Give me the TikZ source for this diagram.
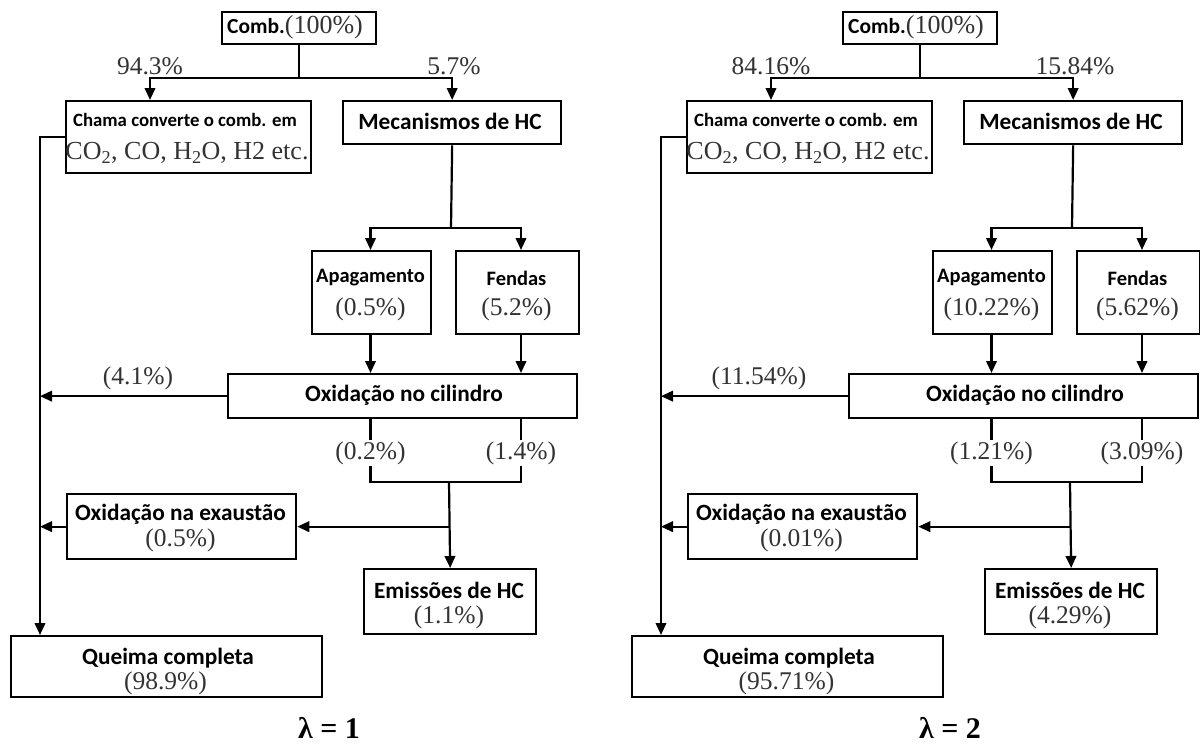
\documentclass[tikz,border=0pt]{standalone}
\usepackage{fontspec}
\setmainfont{Liberation Serif}
\newfontfamily\calb{Carlito}
\usetikzlibrary{arrows.meta}
\tikzset{
  box/.style={draw, line width=2.3pt, rectangle, anchor=north west, inner sep=0pt},
  ln/.style={line width=2.2pt},
  arr/.style={line width=2.2pt, -{Triangle[length=12pt,width=10.5pt]}},
  lbl/.style={font=\calb\bfseries\fontsize{23.3}{27}\selectfont, inner sep=0pt},
  sml/.style={font=\calb\bfseries\fontsize{20.5}{24}\selectfont, inner sep=0pt},
  tiny/.style={font=\calb\bfseries\fontsize{18.8}{22}\selectfont, inner sep=0pt},
  num/.style={font=\fontsize{25.5}{29}\selectfont, text=black!80, inner sep=0pt},
  pct/.style={num, fill=white, inner sep=1pt},
  lam/.style={font=\bfseries\fontsize{30}{34}\selectfont, inner sep=0pt},
}
\newcommand\panel[2]{%
\begin{scope}[xshift=#2]
  \coordinate (#1T) at (40,0);
  \coordinate (#1xL) at (150,0);
  \coordinate (#1xA) at (370.5,0);
  \coordinate (#1xB) at (521,0);
  % boxes
  \node[box, minimum width=154pt, minimum height=32pt] (#1comb) at (221,11) {};
  \node[box, minimum width=245pt, minimum height=72pt] (#1chama) at (65,100) {};
  \node[box, minimum width=218pt, minimum height=43pt] (#1mec) at (342,100) {};
  \node[box, minimum width=119pt, minimum height=83pt] (#1apag) at (311,250) {};
  \node[box, minimum width=123pt, minimum height=83pt] (#1fend) at (455,250) {};
  \node[box, minimum width=349pt, minimum height=44pt] (#1oxc) at (227,373) {};
  \node[box, minimum width=229pt, minimum height=65pt] (#1oxe) at (66,493) {};
  \node[box, minimum width=172pt, minimum height=65pt] (#1emi) at (363,568) {};
  \node[box, minimum width=311pt, minimum height=61pt] (#1que) at (10,635) {};
  % texts
  \node[inner sep=0pt] (#1combT) at (295,27) {{\calb\bfseries\fontsize{21.5}{25}\selectfont Comb.}{\fontsize{26}{30}\selectfont\color{black!80}(100\%)}};
  \node[tiny] (#1chamaA) at (185,120) {Chama converte o comb. em};
  \node[num, font=\fontsize{26}{30}\selectfont] (#1chamaB) at (187,153) {CO\textsubscript{2}, CO, H\textsubscript{2}O, H2 etc.};
  \node[lbl] (#1mecT) at (450,121) {Mecanismos de HC};
  \node[sml] (#1apagT) at (370.5,278) {Apagamento};
  \node[num] (#1apagN) at (370.5,309) {\vC};
  \node[sml] (#1fendT) at (516.5,278) {Fendas};
  \node[num] (#1fendN) at (516.5,309) {\vD};
  \node[lbl] (#1oxcT) at (404,395) {Oxidação no cilindro};
  \node[lbl] (#1oxeT) at (180.5,514) {Oxidação na exaustão};
  \node[num] (#1oxeN) at (180.5,540) {\vH};
  \node[lbl] (#1emiT) at (449,590) {Emissões de HC};
  \node[num] (#1emiN) at (449,617) {\vI};
  \node[lbl] (#1queT) at (168,658) {Queima completa};
  \node[num] (#1queN) at (165.5,683) {\vJ};
  \node[num] (#1pA) at (150,66) {\vA};
  \node[num] (#1pB) at (454,66) {\vB};
  \node[num] (#1pE) at (138,378) {\vE};
  \node[lam] (#1lam) at (329,728) {\vK};
  % connectors
  \coordinate (#1aL) at (150,78);
  \coordinate (#1aR) at (452,78);
  \coordinate (#1m) at (451,228);
  \coordinate (#1jm) at (449,482);
  \draw[ln] (#1comb.south) -- (#1comb.south |- #1aL);
  \draw[arr] (#1aR) -| (#1xL |- #1chama.north);
  \draw[arr] (#1aL) -| (#1mec.north);
  \draw[arr] (#1chama.west) -| (#1T |- #1que.north);
  \draw[ln] (#1mec.south) -- (#1m);
  \draw[arr] (#1m) -| (#1xA |- #1apag.north);
  \draw[arr] (#1m) -| (#1xB |- #1fend.north);
  \draw[arr] (#1xA |- #1apag.south) -- (#1xA |- #1oxc.north);
  \draw[arr] (#1xB |- #1fend.south) -- (#1xB |- #1oxc.north);
  \draw[arr] (#1oxc.west) -- (#1oxc.west -| #1T);
  \draw[ln] (#1xA |- #1oxc.south) -- (#1xA |- #1jm) -- (#1xB |- #1jm) -- (#1xB |- #1oxc.south);
  \node[pct] (#1pF) at (370.5,453) {\vF};
  \node[pct] (#1pG) at (521,453) {\vG};
  \draw[arr] (#1jm) -- (#1emi.north);
  \draw[arr] (#1jm |- #1oxe.east) -- (#1oxe.east);
  \draw[arr] (#1oxe.west) -- (#1oxe.west -| #1T);
\end{scope}}
\begin{document}
\begin{tikzpicture}[x=1pt,y=-1pt]
  \useasboundingbox[fill=white] (0,0) rectangle (1200,747);
  \def\vA{94.3\%}\def\vB{5.7\%}\def\vC{(0.5\%)}\def\vD{(5.2\%)}
  \def\vE{(4.1\%)}\def\vF{(0.2\%)}\def\vG{(1.4\%)}\def\vH{(0.5\%)}
  \def\vI{(1.1\%)}\def\vJ{(98.9\%)}\def\vK{λ = 1}
  \panel{L}{0}
  \def\vA{84.16\%}\def\vB{15.84\%}\def\vC{(10.22\%)}\def\vD{(5.62\%)}
  \def\vE{(11.54\%)}\def\vF{(1.21\%)}\def\vG{(3.09\%)}\def\vH{(0.01\%)}
  \def\vI{(4.29\%)}\def\vJ{(95.71\%)}\def\vK{λ = 2}
  \panel{R}{621}
\end{tikzpicture}
\end{document}
